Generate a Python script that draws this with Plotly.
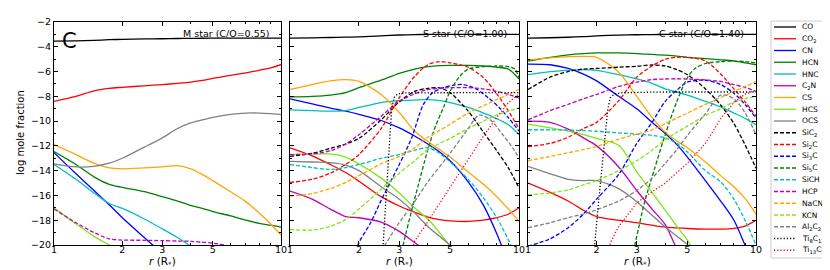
import plotly.graph_objects as go

# ---------------- data ----------------
G = [1, 1.25, 1.5, 1.75, 2, 2.5, 3, 3.5, 4, 4.5, 5, 6, 7, 8, 9, 10]

NAMES = ["CO", "CO2", "CN", "HCN", "HNC", "C2N", "CS", "HCS", "OCS", "SiC2",
         "Si2C", "Si3C", "Si5C", "SiCH", "HCP", "NaCN", "KCN", "Al2C2", "Ti8C12", "Ti13C22"]
LABELS = ["CO", "CO<sub>2</sub>", "CN", "HCN", "HNC", "C<sub>2</sub>N", "CS", "HCS", "OCS",
          "SiC<sub>2</sub>", "Si<sub>2</sub>C", "Si<sub>3</sub>C", "Si<sub>5</sub>C", "SiCH", "HCP",
          "NaCN", "KCN", "Al<sub>2</sub>C<sub>2</sub>", "Ti<sub>8</sub>C<sub>12</sub>", "Ti<sub>13</sub>C<sub>22</sub>"]
PANEL_TITLES = ["M star (C/O=0.55)", "S star (C/O=1.00)", "C star (C/O=1.40)"]
X_TICKS = [1, 2, 3, 5, 10]
Y_TICKS = [-2, -4, -6, -8, -10, -12, -14, -16, -18, -20]

# M star (C/O = 0.55), values on grid G
M_CO = [-3.55, -3.52, -3.48, -3.43, -3.4, -3.37, -3.35, -3.33, -3.32, -3.31, -3.3, -3.3, -3.3, -3.3, -3.3, -3.3]
M_CO2 = [-8.4, -8.0, -7.55, -7.35, -7.27, -7.15, -7.05, -6.95, -6.85, -6.72, -6.55, -6.3, -6.1, -5.9, -5.7, -5.45]
M_CN = [-12.55, -14.25, -15.6, -16.75, -17.8, -19.4, -20.7, -21.9, None, None, None, None, None, None, None, None]
M_HCN = [-12.45, -13.5, -14.5, -15.1, -15.35, -15.7, -16.1, -16.45, -16.8, -17.05, -17.3, -17.65, -18.0, -18.25, -18.4, -18.55]
M_HNC = [-13.5, -14.7, -15.8, -16.65, -17.05, -17.9, -18.7, -19.4, -20.1, -20.8, None, None, None, None, None, None]
M_CS = [-11.9, -12.7, -13.4, -13.78, -13.85, -13.78, -13.7, -13.6, -13.85, -14.3, -14.8, -15.7, -16.5, -17.4, -18.3, -19.2]
M_HCS = [-17.0, -18.3, -19.3, -20.0, -20.6, -21.5, None, None, None, None, None, None, None, None, None, None]
M_OCS = [-13.45, -13.7, -13.65, -13.4, -13.0, -12.1, -11.35, -10.6, -10.15, -9.9, -9.7, -9.45, -9.35, -9.35, -9.4, -9.47]
M_HCP = [-17.1, -18.2, -19.0, -19.5, -19.6, -19.62, -19.65, -19.68, -19.7, -19.78, -19.85, -20.1, -20.4, None, None, None]

# S star (C/O = 1.00)
S_CO = [-3.3, -3.28, -3.25, -3.22, -3.2, -3.12, -3.05, -3.02, -3.0, -3.0, -3.0, -3.0, -3.0, -3.0, -3.0, -3.0]
S_CO2 = [-12.15, -12.8, -13.5, -14.15, -14.85, -16.1, -16.85, -17.35, -17.75, -17.95, -18.05, -18.1, -18.0, -17.8, -17.5, -17.0]
S_CN = [-8.2, -8.6, -8.95, -9.2, -9.45, -9.95, -10.55, -11.2, -11.85, -12.5, -13.2, -14.9, -16.8, -19.1, -21.5, None]
S_HCN = [-8.05, -8.0, -7.9, -7.7, -7.3, -6.7, -6.15, -5.8, -5.6, -5.52, -5.5, -5.5, -5.55, -5.65, -5.8, -6.6]
S_HNC = [-9.1, -9.15, -9.2, -9.15, -8.9, -8.5, -8.35, -8.3, -8.27, -8.35, -8.5, -8.9, -9.35, -9.8, -10.3, -11.1]
S_C2N = [-15.65, -16.3, -17.1, -17.7, -17.8, -18.15, -18.9, -19.8, -20.6, None, None, None, None, None, None, None]
S_CS = [-7.45, -7.05, -6.75, -6.65, -6.8, -7.85, -9.3, -10.8, -11.65, -12.3, -12.9, -14.1, -15.1, -16.1, -17.1, -18.1]
S_HCS = [-12.7, -12.65, -12.65, -12.9, -13.45, -14.6, -15.8, -17.0, -17.9, -19.0, -20.1, -22.0, None, None, None, None]
S_OCS = [-13.25, -13.3, -13.35, -13.55, -14.0, -15.3, -16.3, -17.4, -18.5, -19.3, -20.0, -21.5, None, None, None, None]
S_SIC2 = [-12.85, -12.6, -12.2, -11.85, -11.4, -9.9, -8.45, -7.6, -7.35, -7.32, -7.7, -9.2, -10.9, -12.4, -13.8, -15.4]
S_SI2C = [-14.95, -14.7, -14.2, -13.5, -12.7, -10.6, -8.1, -6.4, -5.45, -5.2, -5.3, -5.65, -6.5, -7.8, -9.2, -10.6]
S_SICH = [-13.5, -13.75, -13.9, -13.75, -13.5, -13.0, -12.7, -12.35, -12.15, -12.6, -13.3, -14.7, -16.2, -17.8, -19.6, -21.5]
S_HCP = [-12.7, -12.65, -12.4, -11.85, -11.1, -9.6, -8.4, -7.8, -7.45, -7.35, -7.3, -7.3, -7.4, -7.6, -7.85, -8.15]
S_NACN = [-16.05, -15.85, -15.45, -14.95, -14.4, -13.45, -12.85, -12.15, -11.3, -10.75, -10.25, -9.35, -8.75, -8.25, -7.85, -7.45]
S_KCN = [-18.75, -18.8, -18.5, -17.95, -17.1, -15.5, -14.2, -13.2, -12.3, -11.8, -11.4, -10.6, -10.0, -9.5, -9.2, -8.95]
S_SI3C_R = [1.9, 2.0, 2.25, 2.5, 3.0, 3.4, 3.82, 4.2, 4.68, 5.2, 5.7, 6.5, 7.36, 8.2, 9.0, 10]
S_SI3C = [-21.0, -19.8, -18.2, -16.4, -13.5, -11.35, -8.67, -7.7, -7.3, -7.1, -7.05, -7.4, -8.13, -8.9, -9.74, -10.8]
S_SI5C_R = [3.05, 3.12, 3.5, 4.02, 4.3, 4.68, 5.0, 5.5, 6.0, 7.0, 8.0, 9.0, 9.6, 10]
S_SI5C = [-21.0, -20.0, -16.3, -12.16, -10.5, -8.9, -7.6, -6.4, -5.8, -5.6, -5.55, -5.6, -5.8, -6.5]
S_AL2C2_R = [2.5, 3, 3.5, 4, 5, 6, 6.7, 7.5, 8.5, 9.5, 10]
S_AL2C2 = [-20.5, -18.2, -16.5, -14.9, -12.6, -10.6, -9.5, -9.9, -11.1, -12.3, -13.0]
S_TI8_R = [2.5, 2.55, 2.62, 2.68, 2.72, 2.78, 2.85, 2.95, 3.2, 4, 6, 8, 10]
S_TI8 = [-22.0, -20.0, -16.5, -13.5, -11.3, -9.0, -8.1, -7.8, -7.72, -7.7, -7.7, -7.7, -7.7]
S_TI13_R = [3.4, 3.5, 4, 5, 6, 7, 8, 9, 10]
S_TI13 = [-20.5, -19.7, -18.1, -15.4, -13.1, -11.2, -9.7, -8.5, -7.8]

# C star (C/O = 1.40)
C_CO = [-3.3, -3.27, -3.23, -3.18, -3.12, -3.06, -3.03, -3.02, -3.0, -3.0, -3.0, -3.0, -3.0, -3.0, -3.0, -3.0]
C_CO2 = [-15.0, -15.75, -16.45, -17.2, -17.7, -18.0, -18.2, -18.4, -18.55, -18.62, -18.67, -18.72, -18.72, -18.65, -18.45, -18.0]
C_CN = [-5.4, -5.45, -5.75, -6.2, -6.75, -8.0, -9.0, -10.1, -11.0, -11.9, -12.9, -14.8, -16.45, -18.0, -20.1, -22.0]
C_HCN = [-5.15, -4.85, -4.65, -4.55, -4.5, -4.5, -4.55, -4.62, -4.68, -4.75, -4.85, -4.95, -5.05, -5.15, -5.3, -5.45]
C_HNC = [-6.25, -6.0, -5.9, -5.85, -5.9, -6.25, -6.6, -6.95, -7.4, -7.65, -7.9, -8.4, -8.85, -9.35, -9.8, -10.3]
C_C2N = [-10.0, -10.1, -10.65, -11.35, -12.0, -13.7, -15.6, -17.1, -18.35, -20.3, -21.5, None, None, None, None, None]
C_CS = [-5.05, -4.9, -4.8, -4.77, -4.85, -6.05, -8.0, -9.7, -10.9, -11.6, -12.15, -13.3, -14.4, -15.3, -16.3, -17.5]
C_HCS = [-10.25, -10.55, -10.8, -11.1, -11.4, -11.95, -14.1, -15.75, -17.2, -18.5, -19.6, -22.0, None, None, None, None]
C_OCS = [-13.65, -14.25, -14.7, -14.8, -14.8, -15.45, -16.5, -17.6, -18.55, -19.3, -19.95, -21.5, None, None, None, None]
C_SIC2 = [-7.45, -6.45, -6.0, -5.8, -5.75, -5.65, -5.57, -5.47, -5.55, -5.85, -6.25, -7.4, -8.7, -10.2, -12.0, -13.8]
C_SI2C = [-12.05, -11.8, -11.3, -10.6, -10.1, -8.35, -6.45, -5.55, -5.0, -4.85, -4.85, -5.15, -6.2, -7.4, -8.5, -9.6]
C_SI3C = [-20.1, -19.5, -18.6, -17.5, -16.3, -14.3, -11.8, -10.1, -8.4, -7.5, -6.85, -6.7, -7.05, -7.75, -8.7, -9.75]
C_SICH = [-10.7, -10.7, -10.72, -10.77, -10.82, -10.95, -11.05, -11.15, -11.35, -11.8, -12.5, -14.0, -14.9, -16.3, -18.1, -20.0]
C_HCP = [-9.9, -9.15, -8.65, -8.2, -7.85, -7.2, -6.85, -6.65, -6.6, -6.58, -6.6, -6.68, -6.8, -7.05, -7.3, -7.6]
C_NACN = [-13.2, -12.85, -12.55, -12.3, -12.05, -11.45, -11.05, -10.7, -10.2, -9.75, -9.35, -8.65, -8.1, -7.6, -7.2, -6.8]
C_KCN = [-15.95, -15.8, -15.55, -15.15, -14.8, -14.0, -13.2, -12.35, -11.5, -10.9, -10.4, -9.55, -9.0, -8.45, -8.2, -8.0]
C_AL2C2 = [-18.6, -18.2, -17.8, -17.5, -17.15, -16.45, -15.6, -14.6, -13.4, -12.3, -11.15, -9.4, -7.9, -8.2, -9.4, -11.1]
C_SI5C_R = [2.88, 2.94, 3.0, 3.25, 3.6, 3.98, 4.5, 5.0, 5.4, 6.0, 7.0, 8.0, 9.0, 10]
C_SI5C = [-21.0, -20.0, -19.3, -16.5, -13.77, -11.2, -8.4, -6.5, -5.75, -5.35, -5.2, -5.15, -5.2, -5.3]
C_TI8_R = [1.9, 1.96, 2.04, 2.12, 2.18, 2.24, 2.3, 2.4, 2.6, 4, 7, 10]
C_TI8 = [-22.0, -20.0, -16.5, -13.3, -11.35, -9.0, -8.1, -7.8, -7.7, -7.65, -7.65, -7.65]
C_TI13_R = [2.22, 2.28, 2.4, 2.5, 3.0, 3.5, 4.0, 5.0, 6.0, 7.0, 8.0, 9.0, 10]
C_TI13 = [-21.5, -20.0, -19.1, -18.5, -16.6, -15.7, -15.0, -13.4, -11.8, -9.8, -8.5, -7.8, -7.5]

# ---------------- styles ----------------
DASH = "4px,2px"
DOT = "1.2px,2px"
STYLE = {
    "CO": ("#000000", "solid"), "CO2": ("#FF0000", "solid"), "CN": ("#0000FF", "solid"),
    "HCN": ("#008000", "solid"), "HNC": ("#00BFBF", "solid"), "C2N": ("#BF00BF", "solid"),
    "CS": ("#FFA500", "solid"), "HCS": ("#7FE617", "solid"), "OCS": ("#808080", "solid"),
    "SiC2": ("#000000", DASH), "Si2C": ("#FF0000", DASH), "Si3C": ("#0000FF", DASH),
    "Si5C": ("#008000", DASH), "SiCH": ("#00BFBF", DASH), "HCP": ("#BF00BF", DASH),
    "NaCN": ("#FFA500", DASH), "KCN": ("#7FE617", DASH), "Al2C2": ("#808080", DASH),
    "Ti8C12": ("#000000", DOT), "Ti13C22": ("#FF0000", DOT),
}

panels = [
    {"CO": (G, M_CO), "CO2": (G, M_CO2), "CN": (G, M_CN), "HCN": (G, M_HCN), "HNC": (G, M_HNC),
     "CS": (G, M_CS), "HCS": (G, M_HCS), "OCS": (G, M_OCS), "HCP": (G, M_HCP)},
    {"CO": (G, S_CO), "CO2": (G, S_CO2), "CN": (G, S_CN), "HCN": (G, S_HCN), "HNC": (G, S_HNC),
     "C2N": (G, S_C2N), "CS": (G, S_CS), "HCS": (G, S_HCS), "OCS": (G, S_OCS), "SiC2": (G, S_SIC2),
     "Si2C": (G, S_SI2C), "Si3C": (S_SI3C_R, S_SI3C), "Si5C": (S_SI5C_R, S_SI5C), "SiCH": (G, S_SICH),
     "HCP": (G, S_HCP), "NaCN": (G, S_NACN), "KCN": (G, S_KCN), "Al2C2": (S_AL2C2_R, S_AL2C2),
     "Ti8C12": (S_TI8_R, S_TI8), "Ti13C22": (S_TI13_R, S_TI13)},
    {"CO": (G, C_CO), "CO2": (G, C_CO2), "CN": (G, C_CN), "HCN": (G, C_HCN), "HNC": (G, C_HNC),
     "C2N": (G, C_C2N), "CS": (G, C_CS), "HCS": (G, C_HCS), "OCS": (G, C_OCS), "SiC2": (G, C_SIC2),
     "Si2C": (G, C_SI2C), "Si3C": (G, C_SI3C), "Si5C": (C_SI5C_R, C_SI5C), "SiCH": (G, C_SICH),
     "HCP": (G, C_HCP), "NaCN": (G, C_NACN), "KCN": (G, C_KCN), "Al2C2": (G, C_AL2C2),
     "Ti8C12": (C_TI8_R, C_TI8), "Ti13C22": (C_TI13_R, C_TI13)},
]

W, H = 830, 270
ML, MR, MT, MB = 46, 82, 14, 33
PW = W - ML - MR
PH = H - MT - MB
def px2x(px):
    return (px - ML) / PW
def py2y(py):
    return (H - MB - py) / PH

FONT = "DejaVu Sans, Liberation Sans, sans-serif"
fig = go.Figure()

edges = [(46, 273), (282, 511), (520, 748)]
domains = [(px2x(a), px2x(b)) for a, b in edges]

for i, panel in enumerate(panels):
    xa = "x" if i == 0 else f"x{i+1}"
    ya = "y" if i == 0 else f"y{i+1}"
    for name in NAMES:
        if name not in panel:
            continue
        r, v = panel[name]
        color, dash = STYLE[name]
        shape = "linear" if name.startswith("Ti") else "spline"
        fig.add_trace(go.Scatter(
            x=r, y=v, mode="lines", xaxis=xa, yaxis=ya, showlegend=False,
            hoverinfo="skip",
            line=dict(color=color, width=1.3, dash=dash, shape=shape, smoothing=0.8),
        ))

axis_common = dict(showline=True, linecolor="black", linewidth=1, mirror="ticks",
                   ticks="inside", tickcolor="black", ticklen=4, tickwidth=1,
                   showgrid=False, zeroline=False, automargin=False,
                   tickfont=dict(family=FONT, size=9.5, color="black"))
for i in range(3):
    key = "xaxis" if i == 0 else f"xaxis{i+1}"
    yk = "yaxis" if i == 0 else f"yaxis{i+1}"
    fig.layout[key] = dict(
        axis_common, domain=list(domains[i]), type="log", range=[0, 1],
        anchor="y" if i == 0 else f"y{i+1}",
        tickmode="array", tickvals=X_TICKS, ticktext=[str(t) for t in X_TICKS],
        ticklabelstandoff=-4,
        minor=dict(ticks="inside", ticklen=2, tickcolor="black", tickmode="array",
                   tickvals=[4, 6, 7, 8, 9]),
    )
    fig.layout[yk] = dict(
        axis_common, domain=[0, 1], range=[-20, -2],
        anchor="x" if i == 0 else f"x{i+1}",
        tickmode="array", tickvals=Y_TICKS,
        ticktext=["\u2212" + str(abs(t)) for t in Y_TICKS],
        showticklabels=(i == 0),
        minor=dict(ticks="inside", ticklen=2, tickcolor="black", dtick=1),
    )

annotations = []
for i, t in enumerate(PANEL_TITLES):
    xa = "x" if i == 0 else f"x{i+1}"
    ya = "y" if i == 0 else f"y{i+1}"
    annotations.append(dict(text=t, xref=f"{xa} domain", yref=f"{ya} domain", x=0.955, y=0.95,
                            xanchor="right", yanchor="middle", showarrow=False,
                            font=dict(family=FONT, size=9.5, color="black")))
    a, b = edges[i]
    annotations.append(dict(text="<i>r</i> (R<sub>*</sub>)", xref="paper", yref="paper",
                            x=px2x((a + b) / 2 - 5), y=py2y(254), xanchor="center", yanchor="middle",
                            showarrow=False, font=dict(family=FONT, size=10.5, color="black")))
annotations.append(dict(text="log mole fraction", xref="paper", yref="paper", x=px2x(12),
                        y=py2y(125), xanchor="center", yanchor="middle", textangle=-90,
                        showarrow=False, font=dict(family=FONT, size=10, color="black")))
annotations.append(dict(text="C", xref="paper", yref="paper", x=px2x(61), y=py2y(33),
                        xanchor="center", yanchor="middle", showarrow=False,
                        font=dict(family=FONT, size=21, color="black")))

# manual legend
shapes = [dict(type="rect", xref="paper", yref="paper", x0=px2x(763), x1=px2x(823),
               y0=py2y(250), y1=py2y(13), line=dict(color="#cccccc", width=1),
               fillcolor="white", layer="below")]
for k, name in enumerate(NAMES):
    yy = py2y(19 + 11.75 * k)
    color, dash = STYLE[name]
    shapes.append(dict(type="line", xref="paper", yref="paper", x0=px2x(766), x1=px2x(788),
                       y0=yy, y1=yy, line=dict(color=color, width=1.3, dash=dash)))
    annotations.append(dict(text=LABELS[k], xref="paper", yref="paper", x=px2x(792), y=yy,
                            xanchor="left", yanchor="middle", showarrow=False,
                            font=dict(family=FONT, size=7.5, color="black")))

fig.update_layout(
    width=W, height=H, margin=dict(l=ML, r=MR, t=MT, b=MB, pad=0),
    paper_bgcolor="white", plot_bgcolor="white", showlegend=False,
    annotations=annotations, shapes=shapes,
    font=dict(family=FONT, size=9.5, color="black"),
)

fig.write_html("out.html")
